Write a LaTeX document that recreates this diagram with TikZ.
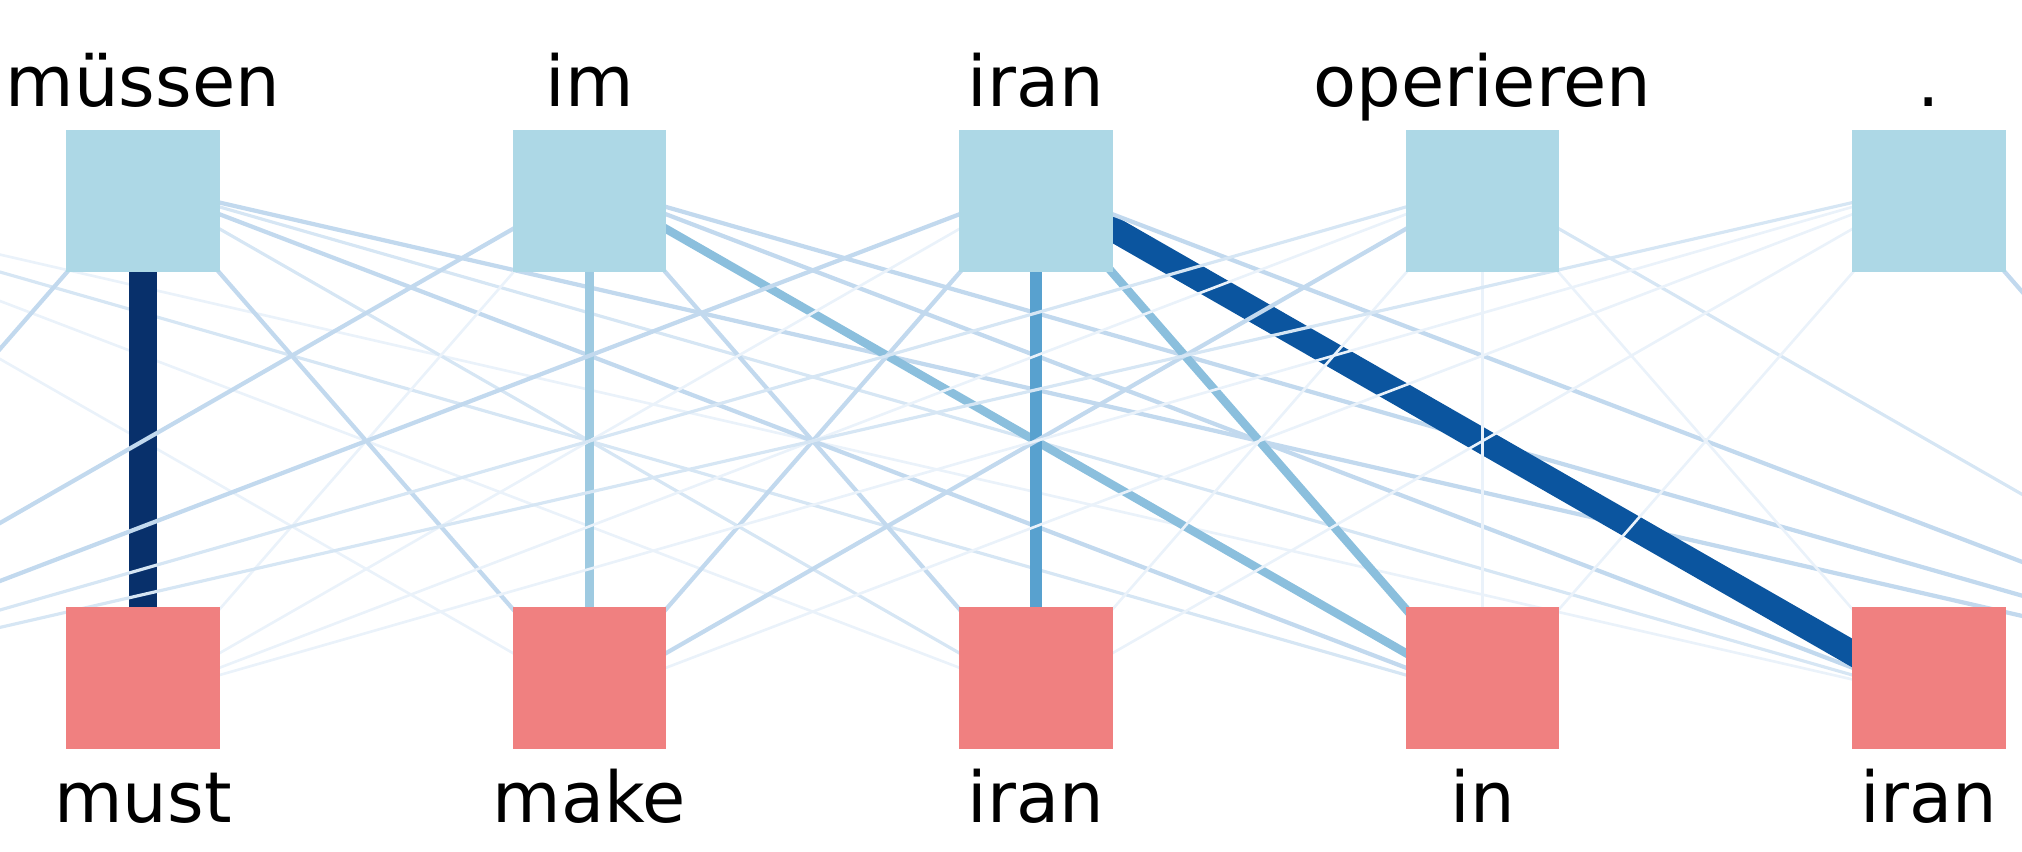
\documentclass[tikz,border=0pt]{standalone}
\usepackage{fontspec}
\setmainfont{DejaVu Sans}
\usetikzlibrary{positioning}

\definecolor{srcbox}{HTML}{ADD8E6}
\definecolor{tgtbox}{HTML}{F08080}
\definecolor{wa}{HTML}{EAF2FA}
\definecolor{wb}{HTML}{D6E6F4}
\definecolor{wc}{HTML}{C2D9EE}
\definecolor{wd}{HTML}{9ECAE1}
\definecolor{we}{HTML}{8BBFDD}
\definecolor{wf}{HTML}{58A1CF}
\definecolor{wg}{HTML}{0B559F}
\definecolor{wh}{HTML}{08306B}

\tikzset{
  src/.style={shape=rectangle,fill=srcbox,minimum width=1.53cm,minimum height=1.42cm,inner sep=0pt},
  tgt/.style={shape=rectangle,fill=tgtbox,minimum width=1.53cm,minimum height=1.42cm,inner sep=0pt},
  word/.style={anchor=base,inner sep=0pt,font=\fontsize{20}{24}\selectfont},
  w1/.style={draw=wa,line width=0.75pt},
  w2/.style={draw=wb,line width=0.9pt},
  w3/.style={draw=wc,line width=1.2pt},
  w4/.style={draw=wd,line width=2.3pt},
  w5/.style={draw=we,line width=2.4pt},
  w6/.style={draw=wf,line width=3.5pt},
  w7/.style={draw=wg,line width=7.1pt},
  w8/.style={draw=wh,line width=7.7pt}
}

\begin{document}
\begin{tikzpicture}[x=0.01cm,y=-0.01cm]
\useasboundingbox (0,0) rectangle (2022,852);
\clip (0,0) rectangle (2022,852);

\coordinate (a0) at (-303.5,185);
\coordinate (a1) at (143,185);
\coordinate (a2) at (589.5,185);
\coordinate (a3) at (1036,185);
\coordinate (a4) at (1482.5,185);
\coordinate (a5) at (1929,185);
\coordinate (a6) at (2375.5,185);
\coordinate (b0) at (-303.5,697);
\coordinate (b1) at (143,697);
\coordinate (b2) at (589.5,697);
\coordinate (b3) at (1036,697);
\coordinate (b4) at (1482.5,697);
\coordinate (b5) at (1929,697);
\coordinate (b6) at (2375.5,697);

\path [-,w1] (a0) edge (b2);
\path [-,w1] (a0) edge (b3);
\path [-,w2] (a0) edge (b4);
\path [-,w1] (a0) edge (b5);

\path [-,w3] (a1) edge (b0);
\path [-,w8] (a1) edge (b1);
\path [-,w3] (a1) edge (b2);
\path [-,w2] (a1) edge (b3);
\path [-,w3] (a1) edge (b4);
\path [-,w2] (a1) edge (b5);
\path [-,w3] (a1) edge (b6);

\path [-,w3] (a2) edge (b0);
\path [-,w1] (a2) edge (b1);
\path [-,w4] (a2) edge (b2);
\path [-,w3] (a2) edge (b3);
\path [-,w5] (a2) edge (b4);
\path [-,w3] (a2) edge (b5);
\path [-,w3] (a2) edge (b6);

\path [-,w3] (a3) edge (b0);
\path [-,w1] (a3) edge (b1);
\path [-,w3] (a3) edge (b2);
\path [-,w6] (a3) edge (b3);
\path [-,w5] (a3) edge (b4);
\path [-,w7] (a3) edge (b5);
\path [-,w3] (a3) edge (b6);

\path [-,w2] (a4) edge (b0);
\path [-,w1] (a4) edge (b1);
\path [-,w3] (a4) edge (b2);
\path [-,w1] (a4) edge (b3);
\path [-,w1] (a4) edge (b4);
\path [-,w1] (a4) edge (b5);
\path [-,w2] (a4) edge (b6);

\path [-,w2] (a5) edge (b0);
\path [-,w1] (a5) edge (b1);
\path [-,w1] (a5) edge (b2);
\path [-,w1] (a5) edge (b3);
\path [-,w1] (a5) edge (b4);
\path [-,w3] (a5) edge (b6);

\node[src] (s1) at (143,201) {};
\node[src] (s2) at (589.5,201) {};
\node[src] (s3) at (1036,201) {};
\node[src] (s4) at (1482.5,201) {};
\node[src] (s5) at (1929,201) {};
\node[tgt] (t1) at (143,678) {};
\node[tgt] (t2) at (589.5,678) {};
\node[tgt] (t3) at (1036,678) {};
\node[tgt] (t4) at (1482.5,678) {};
\node[tgt] (t5) at (1929,678) {};

\node[word] (ls1) at (143,107) {müssen};
\node[word] (ls2) at (589.5,107) {im};
\node[word] (ls3) at (1036,107) {iran};
\node[word] (ls4) at (1482.5,107) {operieren};
\node[word] (ls5) at (1929,107) {.};
\node[word] (lt1) at (143,822) {must};
\node[word] (lt2) at (589.5,822) {make};
\node[word] (lt3) at (1036,822) {iran};
\node[word] (lt4) at (1482.5,822) {in};
\node[word] (lt5) at (1929,822) {iran};
\end{tikzpicture}
\end{document}
